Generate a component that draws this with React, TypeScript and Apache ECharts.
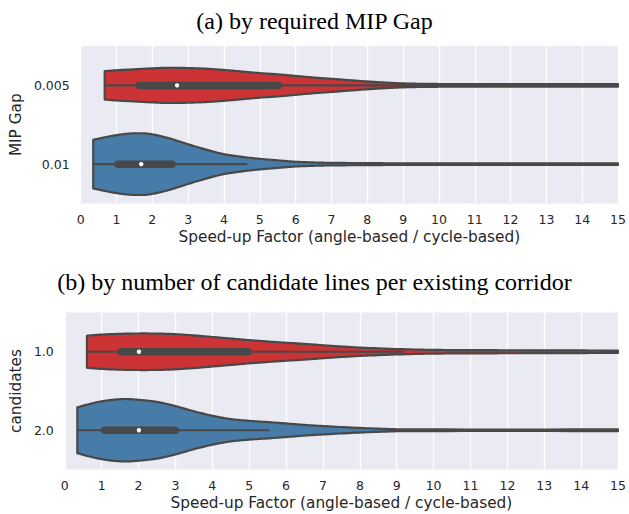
import React, { useEffect, useRef } from "react";
import * as echarts from "echarts";

// ---------- data ----------
const gapCategories = ["0.005", "0.01"];
const candidateCategories = ["1.0", "2.0"];

// density profiles (relative violin half-width)
const gapRedX = [0.67, 1.0, 1.5, 2.0, 2.5, 3.0, 3.5, 4.0, 4.5, 5.0, 5.5, 6.0, 6.5, 7.0, 7.5, 8.0, 8.5, 9.0, 9.5, 10, 11, 12, 13, 14, 15];
const gapRedD = [0.45, 0.48, 0.51, 0.54, 0.56, 0.55, 0.53, 0.49, 0.44, 0.39, 0.35, 0.3, 0.25, 0.21, 0.165, 0.124, 0.09, 0.063, 0.05, 0.044, 0.041, 0.038, 0.038, 0.038, 0.038];
const gapBlueX = [0.35, 0.75, 1.0, 1.3, 1.6, 1.9, 2.2, 2.5, 3.0, 3.5, 4.0, 4.5, 5.0, 5.5, 6.0, 6.5, 7.0, 8.0, 9.0, 10, 15];
const gapBlueD = [0.77, 0.87, 0.92, 0.965, 0.98, 0.965, 0.895, 0.81, 0.63, 0.46, 0.316, 0.23, 0.168, 0.12, 0.076, 0.054, 0.041, 0.032, 0.025, 0.022, 0.022];
const candRedX = [0.6, 1.0, 1.5, 2.0, 2.5, 3.0, 3.5, 4.0, 4.5, 5.0, 5.5, 6.0, 6.5, 7.0, 7.5, 8.0, 8.5, 9.0, 10, 11, 12, 13, 14, 15];
const candRedD = [0.51, 0.547, 0.572, 0.582, 0.579, 0.56, 0.52, 0.47, 0.42, 0.37, 0.327, 0.286, 0.25, 0.207, 0.168, 0.133, 0.108, 0.086, 0.06, 0.051, 0.048, 0.045, 0.041, 0.038];
const candBlueX = [0.34, 0.75, 1.0, 1.3, 1.65, 2.0, 2.3, 2.6, 3.0, 3.5, 4.0, 4.5, 5.0, 5.5, 6.0, 6.5, 7.0, 8.0, 9.0, 10, 15];
const candBlueD = [0.73, 0.86, 0.92, 0.97, 0.995, 0.97, 0.935, 0.88, 0.77, 0.605, 0.46, 0.356, 0.299, 0.26, 0.216, 0.17, 0.134, 0.073, 0.032, 0.025, 0.025];

// box stats: [whisker low, q1, median, q3, whisker high]
const gapRedBox = [0.67, 1.64, 2.69, 5.52, 11.3];
const gapBlueBox = [0.35, 1.04, 1.69, 2.55, 4.65];
const candRedBox = [0.6, 1.53, 2.01, 4.97, 9.2];
const candBlueBox = [0.34, 1.08, 2.01, 2.99, 5.55];

const RED = "#cb3335";
const BLUE = "#477ca8";
const GRAY = "#484848";

type Violin = { xs: number[]; ds: number[]; box: number[]; color: string };

const violinsA: Violin[] = [
  { xs: gapRedX, ds: gapRedD, box: gapRedBox, color: RED },
  { xs: gapBlueX, ds: gapBlueD, box: gapBlueBox, color: BLUE },
];
const violinsB: Violin[] = [
  { xs: candRedX, ds: candRedD, box: candRedBox, color: RED },
  { xs: candBlueX, ds: candBlueD, box: candBlueBox, color: BLUE },
];

// Catmull-Rom smoothing of a pixel edge (drawing only)
function smoothEdge(pts: number[][]): number[][] {
  const out: number[][] = [];
  const n = pts.length;
  for (let i = 0; i < n - 1; i++) {
    const p0 = pts[Math.max(0, i - 1)];
    const p1 = pts[i];
    const p2 = pts[i + 1];
    const p3 = pts[Math.min(n - 1, i + 2)];
    const steps = 10;
    for (let s = 0; s < steps; s++) {
      const t = s / steps;
      const t2 = t * t;
      const t3 = t2 * t;
      const f = (a: number, b: number, c: number, d: number) =>
        0.5 * (2 * b + (-a + c) * t + (2 * a - 5 * b + 4 * c - d) * t2 + (-a + 3 * b - 3 * c + d) * t3);
      out.push([f(p0[0], p1[0], p2[0], p3[0]), f(p0[1], p1[1], p2[1], p3[1])]);
    }
  }
  out.push(pts[n - 1]);
  return out;
}

function makeRender(violins: Violin[]) {
  return (params: any, api: any) => {
    const v = violins[params.dataIndex];
    const cat = api.value(1);
    const band = api.size([0, 1])[1];
    const scale = 0.4 * band;
    const top: number[][] = [];
    const bot: number[][] = [];
    for (let i = 0; i < v.xs.length; i++) {
      const p = api.coord([v.xs[i], cat]);
      const h = v.ds[i] * scale;
      top.push([p[0], p[1] - h]);
      bot.push([p[0], p[1] + h]);
    }
    const st = smoothEdge(top);
    const sb = smoothEdge(bot).reverse();
    const points = st.concat(sb);
    const c = (x: number) => api.coord([x, cat]);
    const cy = c(v.box[2])[1];
    return {
      type: "group",
      children: [
        {
          type: "polygon",
          shape: { points },
          style: { fill: v.color, stroke: GRAY, lineWidth: 2.2, lineJoin: "round" },
        },
        {
          type: "line",
          shape: { x1: c(v.box[0])[0], y1: cy, x2: c(v.box[4])[0], y2: cy },
          style: { stroke: GRAY, lineWidth: 2.2 },
        },
        {
          type: "line",
          shape: { x1: c(v.box[1])[0], y1: cy, x2: c(v.box[3])[0], y2: cy },
          style: { stroke: GRAY, lineWidth: 7.5, lineCap: "round" },
        },
        {
          type: "circle",
          shape: { cx: c(v.box[2])[0], cy, r: 2.2 },
          style: { fill: "#ffffff" },
        },
      ],
    };
  };
}

const tickFont = "DejaVu Sans";

function xAxisOpt(gridIndex: number) {
  return {
    type: "value",
    gridIndex,
    min: 0,
    max: 15,
    interval: 1,
    axisLine: { show: false },
    axisTick: { show: false },
    splitLine: { show: true, lineStyle: { color: "#ffffff", width: 1.3 } },
    axisLabel: { color: "#262626", fontSize: 12.5, fontFamily: tickFont, margin: 9 },
    name: "Speed-up Factor (angle-based / cycle-based)",
    nameLocation: "middle",
    nameGap: 26,
    nameTextStyle: { color: "#262626", fontSize: 15.3, fontFamily: tickFont },
  };
}

function yAxisOpt(gridIndex: number, data: string[], name: string, gap: number) {
  return {
    type: "category",
    gridIndex,
    data,
    inverse: true,
    axisLine: { show: false },
    axisTick: { show: false },
    splitLine: { show: false },
    axisLabel: { color: "#262626", fontSize: 12.5, fontFamily: tickFont, margin: 11 },
    name,
    nameLocation: "middle",
    nameGap: gap,
    nameTextStyle: { color: "#262626", fontSize: 15.3, fontFamily: tickFont },
  };
}

export default function App() {
  const ref = useRef<HTMLDivElement>(null);
  useEffect(() => {
    if (!ref.current) return;
    const chart = echarts.init(ref.current, undefined, { renderer: "svg" });
    const titleStyle = { fontFamily: "Liberation Serif", fontSize: 24, fontWeight: "normal", color: "#000000", lineHeight: 24 };
    chart.setOption({
      animation: false,
      title: [
        { text: "(a) by required MIP Gap", left: "center", top: 9, padding: 0, textStyle: titleStyle },
        { text: "(b) by number of candidate lines per existing corridor", left: "center", top: 270, padding: 0, textStyle: titleStyle },
      ],
      grid: [
        { left: 77, top: 46, width: 544, height: 157.5, show: true, backgroundColor: "#eaeaf2", borderWidth: 0 },
        { left: 60, top: 312.5, width: 561, height: 157, show: true, backgroundColor: "#eaeaf2", borderWidth: 0 },
      ],
      xAxis: [xAxisOpt(0), xAxisOpt(1)],
      yAxis: [
        yAxisOpt(0, gapCategories, "MIP Gap", 53),
        yAxisOpt(1, candidateCategories, "candidates", 36),
      ],
      series: [
        {
          type: "custom",
          xAxisIndex: 0,
          yAxisIndex: 0,
          clip: true,
          renderItem: makeRender(violinsA),
          encode: { x: 0, y: 1 },
          data: violinsA.map((v, i) => [v.box[2], i]),
        },
        {
          type: "custom",
          xAxisIndex: 1,
          yAxisIndex: 1,
          clip: true,
          renderItem: makeRender(violinsB),
          encode: { x: 0, y: 1 },
          data: violinsB.map((v, i) => [v.box[2], i]),
        },
      ],
    });
    return () => chart.dispose();
  }, []);
  return (
    <div
      ref={ref}
      style={{ position: "fixed", left: 0, top: 0, width: 629, height: 514, background: "#ffffff" }}
    />
  );
}
